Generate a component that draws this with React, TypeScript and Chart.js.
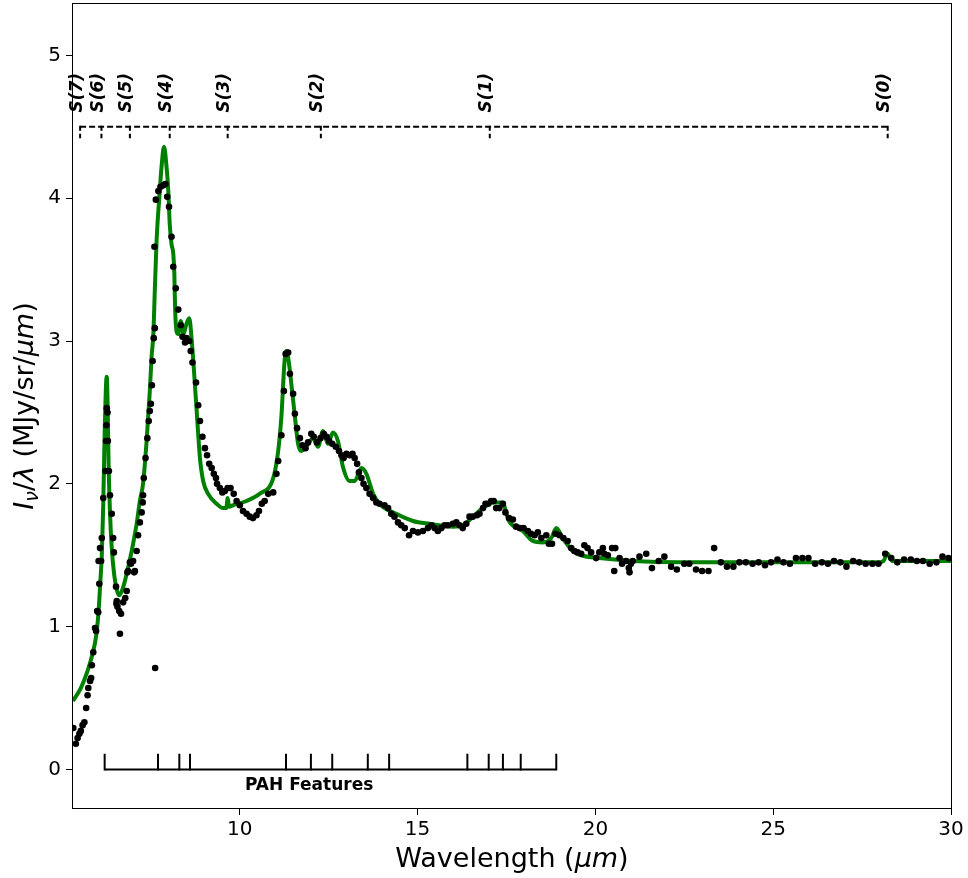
import React, { useEffect, useRef } from "react";
import { Chart, registerables } from "chart.js";

Chart.register(...registerables);

// Observed spectrum (black points)
const obsWavelength = [
  5.32, 5.39, 5.44, 5.49, 5.53, 5.58, 5.63, 5.68, 5.72, 5.74, 5.79, 5.82, 5.84, 5.88, 5.93, 5.96, 5.99, 6.02, 6.03, 6.05,
  6.07, 6.10, 6.12, 6.16, 6.22, 6.24, 6.25, 6.26, 6.28, 6.29, 6.32, 6.35, 6.40, 6.44, 6.46, 6.52, 6.53, 6.54, 6.56, 6.61,
  6.63, 6.66, 6.72, 6.78, 6.82, 6.84, 6.86, 6.91, 6.94, 7.00, 7.03, 7.05, 7.10, 7.14, 7.19, 7.24, 7.27, 7.28, 7.30, 7.35,
  7.40, 7.44, 7.47, 7.50, 7.53, 7.55, 7.58, 7.60, 7.61, 7.62, 7.64, 7.71, 7.77, 7.85, 7.91, 7.96, 8.01, 8.08, 8.13, 8.20,
  8.27, 8.34, 8.39, 8.46, 8.50, 8.58, 8.62, 8.67, 8.77, 8.83, 8.88, 8.95, 9.02, 9.08, 9.14, 9.21, 9.27, 9.33, 9.36, 9.44,
  9.51, 9.58, 9.66, 9.74, 9.83, 9.91, 10.00, 10.09, 10.19, 10.28, 10.37, 10.47, 10.54, 10.62, 10.70, 10.80, 10.94, 11.03, 11.08, 11.17,
  11.24, 11.29, 11.36, 11.41, 11.50, 11.55, 11.61, 11.69, 11.76, 11.85, 11.92, 12.01, 12.08, 12.17, 12.27, 12.36, 12.44, 12.51, 12.60, 12.70,
  12.79, 12.86, 12.92, 13.00, 13.09, 13.17, 13.23, 13.30, 13.35, 13.42, 13.48, 13.56, 13.65, 13.75, 13.84, 13.93, 14.07, 14.17, 14.26, 14.35,
  14.45, 14.54, 14.64, 14.76, 14.87, 15.01, 15.15, 15.29, 15.39, 15.48, 15.57, 15.67, 15.76, 15.85, 15.99, 16.09, 16.18, 16.27, 16.37, 16.46,
  16.55, 16.67, 16.74, 16.84, 16.91, 16.98, 17.07, 17.14, 17.21, 17.30, 17.40, 17.47, 17.57, 17.68, 17.77, 17.87, 17.98, 18.10, 18.19, 18.29,
  18.38, 18.48, 18.62, 18.69, 18.78, 18.88, 18.99, 19.10, 19.22, 19.32, 19.41, 19.50, 19.60, 19.69, 19.78, 19.88, 20.02, 20.11, 20.21, 20.25,
  20.35, 20.47, 20.53, 20.56, 20.68, 20.75, 20.86, 20.94, 20.96, 21.00, 21.05, 21.24, 21.43, 21.59, 21.78, 21.94, 22.13, 22.29, 22.50, 22.64,
  22.83, 23.00, 23.18, 23.34, 23.53, 23.70, 23.88, 24.05, 24.23, 24.42, 24.59, 24.77, 24.94, 25.12, 25.29, 25.47, 25.64, 25.82, 25.99, 26.18,
  26.37, 26.54, 26.71, 26.89, 27.06, 27.25, 27.42, 27.60, 27.79, 27.96, 28.15, 28.32, 28.49, 28.68, 28.87, 29.04, 29.21, 29.40, 29.59, 29.76,
  29.93,
];
const obsFlux = [
  0.29, 0.18, 0.22, 0.25, 0.27, 0.31, 0.33, 0.43, 0.52, 0.57, 0.62, 0.64, 0.73, 0.82, 0.99, 0.97, 1.11, 1.10, 1.46, 1.30,
  1.55, 1.46, 1.62, 1.90, 2.09, 2.30, 2.41, 2.53, 2.50, 2.30, 2.09, 1.92, 1.79, 1.62, 1.52, 1.28, 1.16, 1.18, 1.14, 1.11,
  0.95, 1.09, 1.17, 1.20, 1.25, 1.38, 1.39, 1.45, 1.44, 1.46, 1.38, 1.39, 1.53, 1.64, 1.73, 1.80, 1.87, 1.92, 2.04, 2.18,
  2.32, 2.44, 2.51, 2.56, 2.69, 2.86, 3.02, 3.66, 3.09, 0.71, 3.99, 4.05, 4.08, 4.09, 4.10, 4.01, 3.94, 3.73, 3.52, 3.37,
  3.22, 3.11, 3.03, 2.99, 3.02, 3.00, 2.93, 2.85, 2.71, 2.55, 2.44, 2.33, 2.25, 2.20, 2.14, 2.11, 2.07, 2.04, 2.00, 1.97,
  1.94, 1.95, 1.97, 1.97, 1.93, 1.88, 1.85, 1.81, 1.79, 1.77, 1.76, 1.78, 1.81, 1.86, 1.88, 1.93, 1.94, 2.07, 2.16, 2.34,
  2.65, 2.91, 2.92, 2.77, 2.63, 2.49, 2.39, 2.32, 2.27, 2.25, 2.29, 2.35, 2.33, 2.29, 2.32, 2.35, 2.33, 2.30, 2.28, 2.26,
  2.23, 2.20, 2.18, 2.21, 2.20, 2.21, 2.18, 2.14, 2.08, 2.04, 2.00, 1.97, 1.93, 1.90, 1.87, 1.86, 1.85, 1.83, 1.79, 1.77,
  1.73, 1.71, 1.69, 1.64, 1.67, 1.66, 1.67, 1.69, 1.71, 1.69, 1.67, 1.69, 1.71, 1.71, 1.72, 1.73, 1.71, 1.69, 1.72, 1.77,
  1.77, 1.78, 1.79, 1.83, 1.86, 1.86, 1.88, 1.88, 1.83, 1.83, 1.86, 1.80, 1.76, 1.75, 1.70, 1.69, 1.69, 1.67, 1.65, 1.64,
  1.66, 1.62, 1.64, 1.58, 1.58, 1.65, 1.64, 1.62, 1.60, 1.55, 1.53, 1.52, 1.51, 1.57, 1.55, 1.52, 1.48, 1.52, 1.55, 1.51,
  1.50, 1.55, 1.39, 1.55, 1.48, 1.44, 1.46, 1.41, 1.38, 1.44, 1.46, 1.49, 1.51, 1.41, 1.46, 1.49, 1.42, 1.40, 1.44, 1.44,
  1.40, 1.39, 1.39, 1.55, 1.45, 1.42, 1.42, 1.45, 1.45, 1.44, 1.45, 1.43, 1.45, 1.47, 1.45, 1.44, 1.48, 1.48, 1.48, 1.44,
  1.45, 1.44, 1.46, 1.45, 1.42, 1.46, 1.45, 1.44, 1.44, 1.44, 1.51, 1.48, 1.45, 1.47, 1.47, 1.46, 1.46, 1.44, 1.45, 1.49,
  1.48,
];

// Model fit (green curve)
const modelWavelength = [
  5.31, 5.53, 5.72, 5.86, 5.97, 6.03, 6.08, 6.12, 6.16, 6.20, 6.24, 6.26, 6.28, 6.31, 6.35, 6.40, 6.47, 6.55, 6.61, 6.70,
  6.80, 6.91, 7.00, 7.10, 7.19, 7.28, 7.38, 7.47, 7.52, 7.57, 7.61, 7.66, 7.75, 7.80, 7.87, 7.94, 7.99, 8.03, 8.08, 8.13,
  8.16, 8.18, 8.22, 8.27, 8.34, 8.42, 8.50, 8.58, 8.65, 8.71, 8.78, 8.83, 8.88, 8.97, 9.11, 9.35, 9.53, 9.62, 9.66, 9.70,
  9.81, 10.19, 10.56, 10.94, 11.08, 11.17, 11.26, 11.31, 11.38, 11.45, 11.55, 11.64, 11.73, 11.92, 12.06, 12.20, 12.34, 12.48, 12.62, 12.76,
  12.90, 13.09, 13.23, 13.42, 13.56, 13.75, 13.93, 14.40, 14.87, 15.34, 16.00, 16.27, 16.52, 16.83, 17.16, 17.38, 17.57, 17.96, 18.24, 18.52,
  18.76, 18.90, 19.08, 19.36, 19.60, 20.11, 21.05, 22.37, 25.00, 27.96, 28.10, 28.22, 28.34, 28.60, 30.00,
];
const modelFlux = [
  0.48, 0.57, 0.69, 0.81, 0.95, 1.11, 1.32, 1.50, 1.85, 2.35, 2.70, 2.75, 2.60, 2.15, 1.80, 1.55, 1.36, 1.25, 1.22, 1.26,
  1.35, 1.47, 1.58, 1.72, 1.88, 2.00, 2.30, 2.65, 2.89, 3.05, 3.35, 3.70, 4.05, 4.22, 4.36, 4.22, 4.05, 3.82, 3.68, 3.61,
  3.47, 3.24, 3.07, 3.05, 3.14, 3.05, 3.12, 3.16, 3.00, 2.80, 2.54, 2.35, 2.18, 2.02, 1.93, 1.86, 1.83, 1.83, 1.90, 1.84,
  1.85, 1.88, 1.93, 2.04, 2.23, 2.47, 2.86, 2.93, 2.85, 2.70, 2.47, 2.28, 2.23, 2.28, 2.32, 2.26, 2.37, 2.28, 2.36, 2.30,
  2.12, 2.02, 2.02, 2.11, 2.07, 1.93, 1.86, 1.79, 1.74, 1.72, 1.70, 1.71, 1.76, 1.83, 1.87, 1.87, 1.74, 1.67, 1.60, 1.59,
  1.62, 1.69, 1.62, 1.53, 1.50, 1.48, 1.46, 1.45, 1.45, 1.45, 1.46, 1.51, 1.46, 1.46, 1.46,
];

// H2 rotational lines
const h2Wavelength = [5.51, 6.11, 6.91, 8.03, 9.66, 12.28, 17.03, 28.22];
const h2Labels = ["S(7)", "S(6)", "S(5)", "S(4)", "S(3)", "S(2)", "S(1)", "S(0)"];
const h2LineLevel = 4.5;
const h2TickLevel = 4.42;
const h2LabelLevel = 4.6;

// PAH features
const pahWavelength = [6.2, 7.7, 8.3, 8.6, 11.3, 12.0, 12.6, 13.6, 14.2, 16.4, 17.0, 17.4, 17.9, 18.9];
const pahLevel = 0;
const pahTickLevel = 0.11;
const pahLabel = "PAH Features";
const pahLabelX = 11.95;
const pahLabelY = -0.115;

const xTicks = [10, 15, 20, 25, 30];
const yTicks = [0, 1, 2, 3, 4, 5];
const xRange = [5.31, 30];
const yRange = [-0.27, 5.36];

const FONT = "'DejaVu Sans', 'Liberation Sans', sans-serif";

type Seg = { t: string; font: string; dy?: number };

function drawSegments(ctx: CanvasRenderingContext2D, segs: Seg[], cx: number, baseY: number) {
  let total = 0;
  const widths = segs.map((s) => {
    ctx.font = s.font;
    const w = ctx.measureText(s.t).width;
    total += w;
    return w;
  });
  let x = cx - total / 2;
  ctx.textAlign = "left";
  ctx.textBaseline = "alphabetic";
  segs.forEach((s, i) => {
    ctx.font = s.font;
    ctx.fillText(s.t, x, baseY + (s.dy || 0));
    x += widths[i];
  });
}

const overlayPlugin = {
  id: "overlay",
  afterDraw(chart: any) {
    const ctx: CanvasRenderingContext2D = chart.ctx;
    const { left, right, top, bottom } = chart.chartArea;
    const xs = chart.scales.x;
    const ys = chart.scales.y;
    ctx.save();

    // frame
    ctx.strokeStyle = "#000";
    ctx.lineWidth = 1;
    ctx.setLineDash([]);
    ctx.strokeRect(Math.round(left) - 0.5, Math.round(top) - 0.5, Math.round(right - left) + 1, Math.round(bottom - top) + 1);

    // H2 lines
    const yH = ys.getPixelForValue(h2LineLevel);
    const yHt = ys.getPixelForValue(h2TickLevel);
    ctx.lineWidth = 2;
    ctx.setLineDash([6, 3]);
    ctx.beginPath();
    ctx.moveTo(xs.getPixelForValue(h2Wavelength[0]), yH);
    ctx.lineTo(xs.getPixelForValue(h2Wavelength[h2Wavelength.length - 1]), yH);
    ctx.stroke();
    ctx.setLineDash([5, 3]);
    h2Wavelength.forEach((w) => {
      const px = xs.getPixelForValue(w);
      ctx.beginPath();
      ctx.moveTo(px, yH - 1);
      ctx.lineTo(px, yHt);
      ctx.stroke();
    });
    ctx.setLineDash([]);
    const yL = ys.getPixelForValue(h2LabelLevel);
    ctx.fillStyle = "#000";
    ctx.font = `italic bold 17px ${FONT}`;
    ctx.textAlign = "left";
    ctx.textBaseline = "middle";
    h2Wavelength.forEach((w, i) => {
      const px = xs.getPixelForValue(w);
      ctx.save();
      ctx.translate(px - 3, yL);
      ctx.rotate(-Math.PI / 2);
      ctx.fillText(h2Labels[i], 0, 0);
      ctx.restore();
    });

    // PAH features
    const yP = ys.getPixelForValue(pahLevel);
    const yPt = ys.getPixelForValue(pahTickLevel);
    ctx.lineWidth = 2;
    ctx.beginPath();
    ctx.moveTo(xs.getPixelForValue(pahWavelength[0]), yP);
    ctx.lineTo(xs.getPixelForValue(pahWavelength[pahWavelength.length - 1]), yP);
    ctx.stroke();
    pahWavelength.forEach((w) => {
      const px = xs.getPixelForValue(w);
      ctx.beginPath();
      ctx.moveTo(px, yP + 1);
      ctx.lineTo(px, yPt);
      ctx.stroke();
    });
    ctx.font = `bold 17px ${FONT}`;
    ctx.textAlign = "center";
    ctx.textBaseline = "middle";
    ctx.fillText(pahLabel, xs.getPixelForValue(pahLabelX), ys.getPixelForValue(pahLabelY));

    // x title
    ctx.fillStyle = "#000";
    drawSegments(
      ctx,
      [
        { t: "Wavelength (", font: `27px ${FONT}` },
        { t: "μm", font: `italic 27px ${FONT}` },
        { t: ")", font: `27px ${FONT}` },
      ],
      (left + right) / 2,
      867
    );

    // y title
    ctx.save();
    ctx.translate(33, (top + bottom) / 2);
    ctx.rotate(-Math.PI / 2);
    drawSegments(
      ctx,
      [
        { t: "I", font: `italic 27px ${FONT}` },
        { t: "ν", font: `italic 19px ${FONT}`, dy: 5 },
        { t: "/", font: `27px ${FONT}` },
        { t: "λ", font: `italic 27px ${FONT}` },
        { t: " (MJy/sr/", font: `27px ${FONT}` },
        { t: "μm", font: `italic 27px ${FONT}` },
        { t: ")", font: `27px ${FONT}` },
      ],
      0,
      0
    );
    ctx.restore();

    ctx.restore();
  },
};

export default function App() {
  const ref = useRef<HTMLCanvasElement | null>(null);

  useEffect(() => {
    if (!ref.current) return;
    const obs = obsWavelength.map((x, i) => ({ x, y: obsFlux[i] }));
    const model = modelWavelength.map((x, i) => ({ x, y: modelFlux[i] }));
    const chart = new Chart(ref.current, {
      type: "scatter",
      data: {
        datasets: [
          {
            label: "Data",
            data: obs,
            backgroundColor: "#000",
            borderWidth: 0,
            pointRadius: 3.3,
            pointHoverRadius: 3.3,
            order: 0,
          },
          {
            type: "line",
            label: "Model",
            data: model,
            borderColor: "#008000",
            borderWidth: 4,
            pointRadius: 0,
            fill: false,
            cubicInterpolationMode: "monotone",
            borderJoinStyle: "round",
            order: 1,
          } as any,
        ],
      },
      options: {
        responsive: false,
        animation: false,
        devicePixelRatio: 1,
        layout: { padding: { top: 4, right: 17, left: 0, bottom: 0 } },
        plugins: { legend: { display: false }, tooltip: { enabled: false } },
        events: [],
        scales: {
          x: {
            type: "linear",
            min: xRange[0],
            max: xRange[1],
            afterBuildTicks: (s: any) => {
              s.ticks = xTicks.map((v) => ({ value: v }));
            },
            afterFit: (s: any) => {
              s.height = 70;
              s.paddingLeft = 0;
              s.paddingRight = 0;
            },
            ticks: {
              font: { family: FONT, size: 20 },
              color: "#000",
              padding: 3,
              maxRotation: 0,
              autoSkip: false,
              callback: (v: any) => String(v),
            },
            grid: { drawOnChartArea: false, drawTicks: true, tickLength: 7, color: "#000", tickWidth: 1 },
            border: { display: false },
          },
          y: {
            type: "linear",
            min: yRange[0],
            max: yRange[1],
            afterBuildTicks: (s: any) => {
              s.ticks = yTicks.map((v) => ({ value: v }));
            },
            afterFit: (s: any) => {
              s.width = 73;
              s.paddingTop = 0;
              s.paddingBottom = 0;
            },
            ticks: {
              font: { family: FONT, size: 20 },
              color: "#000",
              padding: 5,
              callback: (v: any) => String(v),
            },
            grid: { drawOnChartArea: false, drawTicks: true, tickLength: 7, color: "#000", tickWidth: 1 },
            border: { display: false },
          },
        },
      },
      plugins: [overlayPlugin],
    });
    return () => chart.destroy();
  }, []);

  return (
    <div style={{ position: "absolute", left: 0, top: 0, width: 968, height: 878, background: "#fff" }}>
      <canvas ref={ref} width={968} height={878} style={{ display: "block" }} />
    </div>
  );
}
